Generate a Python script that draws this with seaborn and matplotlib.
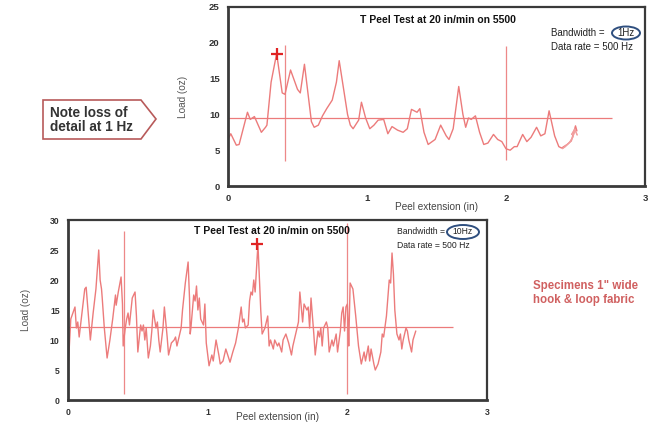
"""
Two T-peel test traces (1 Hz vs 10 Hz bandwidth) on one slide-style figure.
"""

import matplotlib.pyplot as plt
import seaborn as sns
from matplotlib.patches import Ellipse, Polygon
from matplotlib.ticker import MultipleLocator

# ------------------------------------------------------------------
# Data
# ------------------------------------------------------------------
# top panel: bandwidth 1 Hz
ext_1hz = [0.00, 0.02, 0.06, 0.08, 0.14, 0.16, 0.19, 0.24, 0.27, 0.28, 0.31, 0.35,
           0.39, 0.41, 0.45, 0.50, 0.52, 0.55, 0.60, 0.62, 0.65, 0.68, 0.71, 0.75,
           0.78, 0.80, 0.82, 0.86, 0.88, 0.90, 0.94, 0.96, 0.99, 1.02, 1.05, 1.08,
           1.12, 1.15, 1.18, 1.22, 1.26, 1.29, 1.32, 1.36, 1.38, 1.41, 1.44, 1.49,
           1.53, 1.57, 1.59, 1.62, 1.66, 1.69, 1.71, 1.73, 1.75, 1.78, 1.81, 1.84,
           1.87, 1.91, 1.94, 1.97, 2.00, 2.03, 2.06, 2.08, 2.12, 2.15, 2.18, 2.22,
           2.25, 2.28, 2.31, 2.35, 2.38, 2.40, 2.44, 2.47, 2.50, 2.51]
load_1hz = [6.5, 7.3, 5.7, 5.8, 10.3, 9.3, 9.7, 7.5, 8.2, 8.5, 14.5, 18.5,
            13.0, 12.8, 16.2, 13.5, 13.0, 17.0, 9.0, 8.2, 8.5, 9.8, 10.8, 12.0,
            14.5, 17.5, 15.0, 10.0, 8.5, 8.0, 9.2, 11.7, 9.5, 8.0, 8.5, 9.2,
            9.3, 7.3, 8.3, 7.8, 7.5, 8.0, 10.7, 10.3, 10.8, 7.5, 5.8, 6.5,
            8.5, 7.0, 6.5, 8.0, 13.9, 10.0, 8.2, 9.5, 9.3, 9.8, 7.5, 5.8,
            6.0, 7.2, 6.5, 6.2, 5.2, 5.0, 5.5, 5.5, 7.2, 6.2, 6.8, 8.2,
            7.0, 7.3, 10.5, 7.0, 5.5, 5.3, 5.8, 6.3, 8.4, 7.7]
mean_1hz = 9.5
mean_end_1hz = 2.76
cursors_1hz = [0.41, 2.00]
cursor_lo_1hz = [3.5, 3.6]
cursor_hi_1hz = [19.7, 19.5]
peak_1hz = (0.35, 18.5)

# bottom panel: bandwidth 10 Hz
ext_10hz = [0.00, 0.02, 0.05, 0.06, 0.07, 0.08, 0.09, 0.12, 0.13, 0.15, 0.16, 0.18,
            0.20, 0.22, 0.23, 0.24, 0.245, 0.26, 0.28, 0.30, 0.32, 0.34, 0.345, 0.36,
            0.38, 0.39, 0.395, 0.41, 0.42, 0.43, 0.44, 0.46, 0.48, 0.49, 0.50, 0.52,
            0.53, 0.54, 0.55, 0.56, 0.575, 0.59, 0.60, 0.61, 0.63, 0.64, 0.65, 0.66,
            0.68, 0.69, 0.71, 0.72, 0.74, 0.76, 0.77, 0.78, 0.80, 0.81, 0.82, 0.84,
            0.86, 0.87, 0.875, 0.88, 0.90, 0.91, 0.92, 0.93, 0.94, 0.95, 0.97, 0.98,
            0.99, 1.01, 1.03, 1.04, 1.06, 1.08, 1.09, 1.11, 1.13, 1.15, 1.16, 1.18,
            1.20, 1.22, 1.24, 1.25, 1.26, 1.27, 1.29, 1.30, 1.31, 1.32, 1.33, 1.34,
            1.36, 1.38, 1.39, 1.41, 1.43, 1.44, 1.45, 1.47, 1.48, 1.50, 1.51, 1.53,
            1.54, 1.56, 1.58, 1.60, 1.61, 1.63, 1.65, 1.66, 1.68, 1.69, 1.71, 1.72,
            1.73, 1.74, 1.76, 1.77, 1.79, 1.80, 1.81, 1.82, 1.83, 1.85, 1.86, 1.87,
            1.89, 1.90, 1.92, 1.93, 1.95, 1.96, 1.97, 1.98, 1.99, 2.00, 2.005, 2.01,
            2.02, 2.04, 2.06, 2.08, 2.10, 2.12, 2.13, 2.15, 2.16, 2.17, 2.19, 2.20,
            2.22, 2.24, 2.25, 2.26, 2.28, 2.30, 2.31, 2.32, 2.33, 2.34, 2.355, 2.37,
            2.38, 2.39, 2.40, 2.42, 2.43, 2.44, 2.45, 2.46, 2.47, 2.49]
load_10hz = [4.8, 13.5, 15.5, 12.0, 13.0, 10.5, 12.5, 18.5, 18.8, 13.0, 10.0, 14.5,
             18.5, 25.0, 20.0, 18.5, 17.0, 12.0, 7.0, 10.0, 13.5, 17.5, 15.8, 18.0,
             20.5, 16.0, 9.0, 12.0, 13.5, 14.5, 12.5, 17.0, 18.0, 14.0, 8.0, 12.5,
             11.5, 12.5, 10.0, 12.0, 7.0, 9.0, 11.5, 15.0, 12.0, 13.0, 10.0, 8.0,
             12.0, 15.5, 10.5, 7.5, 9.5, 10.0, 10.5, 9.0, 11.0, 12.0, 15.0, 19.5,
             23.0, 17.0, 11.0, 12.0, 17.5, 16.5, 19.0, 15.0, 17.0, 13.5, 12.5, 16.0,
             9.5, 5.7, 7.5, 6.5, 10.0, 7.5, 6.0, 6.5, 8.5, 7.0, 6.3, 8.0,
             9.5, 12.0, 15.5, 13.0, 13.5, 12.0, 12.5, 16.5, 18.0, 17.5, 20.0, 18.0,
             26.0, 15.0, 11.0, 12.0, 14.0, 9.0, 10.0, 8.5, 10.0, 9.0, 9.5, 8.0,
             10.0, 11.0, 9.5, 7.5, 9.0, 11.0, 13.0, 18.0, 13.0, 16.0, 15.0, 15.5,
             12.0, 17.0, 11.0, 7.5, 11.5, 10.5, 12.0, 9.0, 12.0, 13.0, 12.0, 8.0,
             10.0, 9.0, 11.0, 8.0, 11.5, 14.5, 15.5, 11.5, 15.5, 16.0, 13.0, 9.0,
             19.5, 18.5, 14.0, 9.0, 6.0, 8.0, 6.5, 9.0, 6.5, 8.5, 6.0, 5.0,
             6.0, 8.0, 11.0, 10.5, 14.0, 20.0, 19.5, 24.5, 21.0, 15.0, 11.0, 10.0,
             11.0, 8.5, 10.0, 12.0, 11.5, 10.0, 9.0, 8.0, 10.0, 11.5]
mean_10hz = 12.2
mean_end_10hz = 2.76
cursors_10hz = [0.40, 2.00]
cursor_lo_10hz = [1.0, 1.0]
cursor_hi_10hz = [28.2, 29.5]
peak_10hz = (1.35, 26.0)

title_text = "T Peel Test at 20 in/min on 5500"

W, H = 657, 425
TRACE = "#ec7b7b"
FRAME = "#3a3a3a"


def px(x, y):
    """Pixel position in the reference -> figure fraction."""
    return x / W, 1 - y / H


def draw_panel(ax, ext, load, mean, mean_end, cursors, lo, hi, peak, ymax,
               tick_fs, xlabel_y, ylabel_x):
    sns.lineplot(x=ext, y=load, ax=ax, color=TRACE, linewidth=1.0, sort=False)
    ax.hlines(mean, 0, mean_end, color=TRACE, linewidth=0.9)
    ax.vlines(cursors, lo, hi, color=TRACE, linewidth=0.9, alpha=0.9)
    ax.plot(*peak, marker="+", color="#e02424", markersize=9, mew=1.6)

    ax.set_xlim(0, 3)
    ax.set_ylim(0, ymax)
    ax.xaxis.set_major_locator(MultipleLocator(1))
    ax.xaxis.set_minor_locator(MultipleLocator(0.5))
    ax.yaxis.set_major_locator(MultipleLocator(5))
    ax.yaxis.set_minor_locator(MultipleLocator(2.5))
    ax.tick_params(which="major", direction="out", length=4.5, width=1.2,
                   color=FRAME, labelsize=tick_fs, pad=1.5, labelcolor="#333")
    ax.tick_params(which="minor", direction="out", length=2.5, width=1, color=FRAME)
    for lab in ax.get_xticklabels() + ax.get_yticklabels():
        lab.set_fontweight("bold")

    for side, lw in [("left", 2.0), ("bottom", 2.0), ("top", 1.6), ("right", 1.6)]:
        ax.spines[side].set_visible(True)
        ax.spines[side].set_color(FRAME)
        ax.spines[side].set_linewidth(lw)

    ax.set_xlabel("Peel extension (in)", fontsize=7.2, color="#444")
    ax.set_ylabel("Load (oz)", fontsize=7.2, color="#555")
    ax.xaxis.set_label_coords(0.5, xlabel_y)
    ax.yaxis.set_label_coords(ylabel_x, 0.5)


sns.set_style("white")
plt.rcParams["font.family"] = ["Liberation Sans", "DejaVu Sans"]

fig = plt.figure(figsize=(W / 100, H / 100), dpi=100)
ax_top = fig.add_axes([228 / W, 1 - 186 / H, (645 - 228) / W, (186 - 7) / H])
ax_bot = fig.add_axes([68 / W, 1 - 400 / H, (487 - 68) / W, (400 - 220) / H])

draw_panel(ax_top, ext_1hz, load_1hz, mean_1hz, mean_end_1hz,
           cursors_1hz, cursor_lo_1hz, cursor_hi_1hz, peak_1hz, 25,
           6.8, -0.09, -0.095)
draw_panel(ax_bot, ext_10hz, load_10hz, mean_10hz, mean_end_10hz,
           cursors_10hz, cursor_lo_10hz, cursor_hi_10hz, peak_10hz, 30,
           6.2, -0.068, -0.088)

# titles inside the boxes
fig.text(*px(438, 20), title_text, ha="center", va="center", fontsize=7.5,
         fontweight="bold", color="#111")
fig.text(*px(272, 231), title_text, ha="center", va="center", fontsize=7.5,
         fontweight="bold", color="#111")

# bandwidth / data rate notes with the circled value
notes = [((551, 33), 7.0, "1Hz", (626, 33, 28, 13)),
         ((397, 232), 6.2, "10Hz", (463, 232, 32, 14))]
for (x0, y0), fs, bw, (ex, ey, ew, eh) in notes:
    fig.text(*px(x0, y0), "Bandwidth =", ha="left", va="center",
             fontsize=fs, color="#222")
    fig.text(*px(ex, ey), bw, ha="center", va="center", fontsize=fs, color="#222")
    fig.text(*px(x0, y0 + 14), "Data rate = 500 Hz", ha="left", va="center",
             fontsize=fs, color="#222")
    fig.add_artist(Ellipse(px(ex, ey), ew / W, eh / H, transform=fig.transFigure,
                           fill=False, edgecolor="#2f4f7f", linewidth=1.4))

# faint curved arrow near the top panel's mean line
fig.add_artist(plt.annotate("", xy=px(575, 125), xytext=px(560, 150),
                            xycoords="figure fraction", textcoords="figure fraction",
                            arrowprops=dict(arrowstyle="->", color="#f2a0a0", lw=0.9,
                                            connectionstyle="arc3,rad=0.3")))

# callout pentagon on the left
callout = Polygon([px(43, 100), px(141, 100), px(156, 119), px(141, 139), px(43, 139)],
                  closed=True, transform=fig.transFigure, facecolor="white",
                  edgecolor="#b85a5a", linewidth=1.2)
fig.add_artist(callout)
fig.text(*px(50, 120), "Note loss of\ndetail at 1 Hz", ha="left", va="center",
         fontsize=9.8, fontweight="bold", color="#333", linespacing=1.05)

# specimen note
fig.text(*px(533, 293), "Specimens 1\" wide\nhook & loop fabric", ha="left", va="center",
         fontsize=8.3, fontweight="bold", color="#d06060", linespacing=1.15)

fig.savefig("out.png", dpi=100)
